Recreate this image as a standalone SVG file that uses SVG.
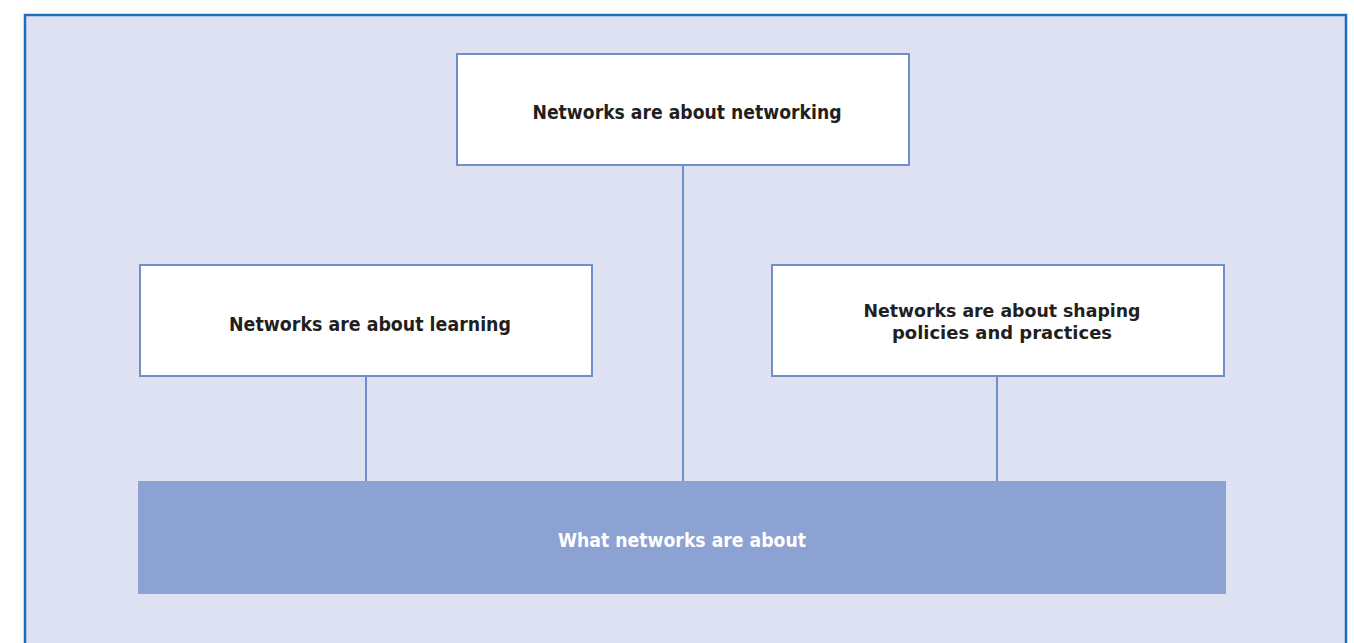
<svg xmlns="http://www.w3.org/2000/svg" width="1354" height="643" viewBox="0 0 1354 643">
<style>
.box{fill:#ffffff;stroke:#6f8fcc;stroke-width:2}
.lbl{font-family:"DejaVu Sans Condensed","Liberation Sans Narrow","Liberation Sans",sans-serif;font-weight:bold;font-size:20px;fill:#231f20;text-anchor:middle}
.two{font-size:18.5px}
.con{stroke:#6f8fcc;stroke-width:2;fill:none}
</style>
<rect width="1354" height="643" fill="#ffffff"/>
<rect x="25" y="15" width="1321" height="640" fill="#dee1f2" stroke="#1c6cbf" stroke-width="2.5"/>
<g id="connectors">
<line class="con" x1="683" y1="165" x2="683" y2="481"/>
<line class="con" x1="366" y1="376" x2="366" y2="481"/>
<line class="con" x1="997" y1="376" x2="997" y2="481"/>
</g>
<g id="networking">
<rect class="box" x="457" y="54" width="452" height="111"/>
<text class="lbl" x="687" y="119" textLength="309" lengthAdjust="spacingAndGlyphs">Networks are about networking</text>
</g>
<g id="learning">
<rect class="box" x="140" y="265" width="452" height="111"/>
<text class="lbl" x="370" y="331" textLength="282" lengthAdjust="spacingAndGlyphs">Networks are about learning</text>
</g>
<g id="shaping">
<rect class="box" x="772" y="265" width="452" height="111"/>
<text class="lbl two" x="1002" y="317" textLength="277" lengthAdjust="spacingAndGlyphs">Networks are about shaping</text>
<text class="lbl two" x="1002" y="339" textLength="220" lengthAdjust="spacingAndGlyphs">policies and practices</text>
</g>
<g id="about">
<rect x="138" y="481" width="1088" height="113" fill="#8ba2d3"/>
<text class="lbl" x="682" y="547" style="fill:#ffffff" textLength="248" lengthAdjust="spacingAndGlyphs">What networks are about</text>
</g>
</svg>
